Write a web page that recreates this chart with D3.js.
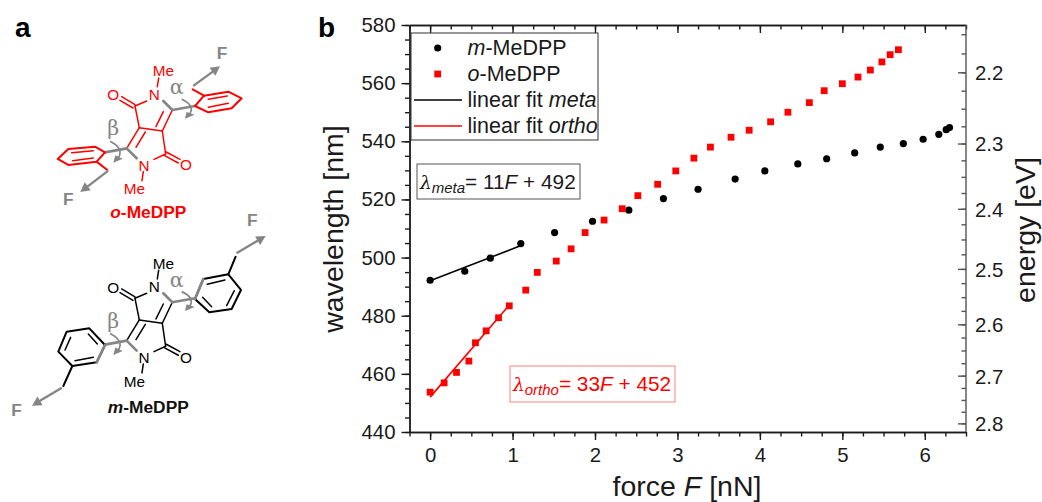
<!DOCTYPE html>
<html>
<head>
<meta charset="utf-8">
<script src="https://cdn.jsdelivr.net/npm/d3@7"></script>
<style>
  html, body { margin: 0; background: #fff; }
  svg text { font-family: "Liberation Sans", Arial, sans-serif; }
  .tick text { font-family: "Liberation Sans", Arial, sans-serif; }
</style>
</head>
<body>
<div id="chart"></div>
<script>
// ========== Data ==========
const metaForce = [0, 0.42, 0.73, 1.10, 1.51, 1.97, 2.41, 2.83, 3.25, 3.70, 4.06, 4.46, 4.81, 5.15, 5.46, 5.74, 5.98, 6.17, 6.26, 6.30];
const metaWave = [492.2, 495.3, 499.8, 504.8, 508.6, 512.5, 516.3, 520.3, 523.5, 527, 529.8, 532.2, 534, 536, 538, 539.2, 540.7, 542.4, 544, 544.7];
const orthoForce = [0, 0.17, 0.32, 0.47, 0.55, 0.68, 0.83, 0.96, 1.16, 1.30, 1.53, 1.71, 1.88, 2.11, 2.33, 2.52, 2.76, 2.98, 3.20, 3.40, 3.65, 3.87, 4.13, 4.34, 4.60, 4.78, 5.00, 5.19, 5.34, 5.48, 5.58, 5.68];
const orthoWave = [453.7, 456.9, 460.5, 464.4, 470.7, 474.8, 479.3, 483.4, 488.8, 494.9, 498.8, 503, 508.6, 512.9, 516.8, 521.3, 525.2, 529.8, 534.2, 538, 541.4, 543.8, 546.7, 550, 553.3, 557.4, 559.8, 562.1, 564.5, 567.3, 569.8, 571.5];
const metaFit = { slope: 11, intercept: 492, from: 0, to: 1.08 };
const orthoFit = { slope: 33, intercept: 452, from: 0, to: 0.95 };
const forceTicks = [0, 1, 2, 3, 4, 5, 6];
const waveTicks = [440, 460, 480, 500, 520, 540, 560, 580];
const energyTicks = [2.2, 2.3, 2.4, 2.5, 2.6, 2.7, 2.8];
const HC = 1239.84; // eV nm

const RED = "#ff0000";
const GRAY = "#858585";
const INK = "#1a1a1a";
const TICK_FONT = 20.4;
const TITLE_FONT = 28.5;

const svg = d3.select("#chart").append("svg")
    .attr("width", 1042)
    .attr("height", 502)
    .style("display", "block");

// ========== Panel letters ==========
svg.append("text").attr("x", 15).attr("y", 37).attr("font-size", 28).attr("font-weight", "bold").text("a");
svg.append("text").attr("x", 318).attr("y", 37).attr("font-size", 28).attr("font-weight", "bold").text("b");

// ========== Panel b: scales ==========
const plotLeft = 409.5, plotRight = 966, plotTop = 25, plotBottom = 432;
const x = d3.scaleLinear().domain([-0.25, 6.5]).range([plotLeft, plotRight]);
const y = d3.scaleLinear().domain([440, 580]).range([plotBottom, plotTop]);
const yEnergy = e => y(HC / e); // energy axis is reciprocal to wavelength

function styleAxis(g) {
    g.selectAll("path, line").attr("stroke", INK).attr("stroke-width", 1.4);
    g.selectAll("text").attr("font-size", TICK_FONT).attr("fill", INK);
}

const forceMinor = d3.range(-0.25, 6.51, 0.25);
const waveMinor = d3.range(440, 581, 5);
const energyMinor = d3.range(2.15, 2.81, 0.025);

// Bottom axis
svg.append("g").attr("transform", `translate(0,${plotBottom})`)
    .call(d3.axisBottom(x).tickValues(forceMinor).tickSize(4.5).tickSizeOuter(0).tickFormat(""))
    .call(styleAxis);
svg.append("g").attr("transform", `translate(0,${plotBottom})`)
    .call(d3.axisBottom(x).tickValues(forceTicks).tickSize(8).tickSizeOuter(0).tickPadding(8).tickFormat(d3.format("d")))
    .call(styleAxis);

// Top axis, ticks inward
svg.append("g").attr("transform", `translate(0,${plotTop})`)
    .call(d3.axisBottom(x).tickValues(forceMinor).tickSize(4.5).tickSizeOuter(0).tickFormat(""))
    .call(styleAxis);
svg.append("g").attr("transform", `translate(0,${plotTop})`)
    .call(d3.axisBottom(x).tickValues(forceTicks).tickSize(8).tickSizeOuter(0).tickFormat(""))
    .call(styleAxis);

// Left axis
svg.append("g").attr("transform", `translate(${plotLeft},0)`)
    .call(d3.axisLeft(y).tickValues(waveMinor).tickSize(4.5).tickSizeOuter(0).tickFormat(""))
    .call(styleAxis);
svg.append("g").attr("transform", `translate(${plotLeft},0)`)
    .call(d3.axisLeft(y).tickValues(waveTicks).tickSize(8).tickSizeOuter(0).tickPadding(6).tickFormat(d3.format("d")))
    .call(styleAxis);

// Right axis: ticks inward, labels outside
const rightAxis = svg.append("g").attr("transform", `translate(${plotRight},0)`);
rightAxis.append("line").attr("y1", plotTop).attr("y2", plotBottom).attr("stroke", "#555").attr("stroke-width", 1.4);
rightAxis.selectAll(".minor").data(energyMinor).enter().append("line")
    .attr("class", "minor")
    .attr("x1", -4.5).attr("x2", 0)
    .attr("y1", d => yEnergy(d)).attr("y2", d => yEnergy(d))
    .attr("stroke", "#555").attr("stroke-width", 1.4);
rightAxis.selectAll(".major").data(energyTicks).enter().append("line")
    .attr("class", "major")
    .attr("x1", -8).attr("x2", 0)
    .attr("y1", d => yEnergy(d)).attr("y2", d => yEnergy(d))
    .attr("stroke", "#555").attr("stroke-width", 1.4);
rightAxis.selectAll(".label").data(energyTicks).enter().append("text")
    .attr("class", "label")
    .attr("x", 9)
    .attr("y", d => yEnergy(d))
    .attr("dy", "0.36em")
    .attr("font-size", TICK_FONT)
    .attr("fill", INK)
    .text(d => d.toFixed(1));

// Axis titles
svg.append("text").attr("x", 687).attr("y", 496).attr("text-anchor", "middle").attr("font-size", TITLE_FONT).attr("fill", INK)
    .html('force <tspan font-style="italic">F</tspan> [nN]');
svg.append("text").attr("transform", "translate(343,229) rotate(-90)").attr("text-anchor", "middle").attr("font-size", TITLE_FONT).attr("fill", INK)
    .text("wavelength [nm]");
svg.append("text").attr("transform", "translate(1035,230) rotate(-90)").attr("text-anchor", "middle").attr("font-size", TITLE_FONT).attr("fill", INK)
    .text("energy [eV]");

// ========== Fit lines ==========
function drawFit(fit, color) {
    const ends = [fit.from, fit.to];
    svg.append("path")
        .datum(ends)
        .attr("fill", "none")
        .attr("stroke", color)
        .attr("stroke-width", 1.6)
        .attr("d", d3.line().x(d => x(d)).y(d => y(fit.slope * d + fit.intercept)));
}
drawFit(metaFit, "#000");
drawFit(orthoFit, RED);

// ========== Points ==========
svg.append("g").selectAll("circle")
    .data(d3.zip(metaForce, metaWave))
    .enter().append("circle")
    .attr("cx", d => x(d[0]))
    .attr("cy", d => y(d[1]))
    .attr("r", 3.6)
    .attr("fill", "#000");

const SQ = 6.8;
svg.append("g").selectAll("rect")
    .data(d3.zip(orthoForce, orthoWave))
    .enter().append("rect")
    .attr("x", d => x(d[0]) - SQ / 2)
    .attr("y", d => y(d[1]) - SQ / 2)
    .attr("width", SQ)
    .attr("height", SQ)
    .attr("fill", RED);

// ========== Legend ==========
const legend = svg.append("g");
legend.append("rect").attr("x", 411).attr("y", 33).attr("width", 187).attr("height", 107)
    .attr("fill", "#fff").attr("stroke", "#333").attr("stroke-width", 1);
const rowY = [48, 74, 100, 126];
legend.append("circle").attr("cx", 437.7).attr("cy", rowY[0]).attr("r", 3.6).attr("fill", "#000");
legend.append("rect").attr("x", 437.7 - SQ / 2).attr("y", rowY[1] - SQ / 2).attr("width", SQ).attr("height", SQ).attr("fill", RED);
legend.append("line").attr("x1", 414).attr("x2", 462).attr("y1", rowY[2]).attr("y2", rowY[2]).attr("stroke", "#000").attr("stroke-width", 1.5);
legend.append("line").attr("x1", 414).attr("x2", 462).attr("y1", rowY[3]).attr("y2", rowY[3]).attr("stroke", RED).attr("stroke-width", 1.5);
const legendText = [
    '<tspan font-style="italic">m</tspan>-MeDPP',
    '<tspan font-style="italic">o</tspan>-MeDPP',
    'linear fit <tspan font-style="italic">meta</tspan>',
    'linear fit <tspan font-style="italic">ortho</tspan>'
];
legendText.forEach((t, i) => {
    legend.append("text").attr("x", 467.5).attr("y", rowY[i] + 7).attr("font-size", 21.5).attr("fill", INK).html(t);
});

// ========== Equation boxes ==========
function eqBox(bx, by, bw, bh, sub, eq, color, stroke) {
    svg.append("rect").attr("x", bx).attr("y", by).attr("width", bw).attr("height", bh)
        .attr("fill", "#fff").attr("stroke", stroke).attr("stroke-width", 1);
    svg.append("text").attr("x", bx + 3).attr("y", by + 24.5).attr("font-size", 20.8).attr("fill", color)
        .html(`<tspan font-style="italic" font-family="DejaVu Serif" font-size="18.5">λ</tspan><tspan font-style="italic" font-size="15" dy="4">${sub}</tspan><tspan dy="-4">= ${eq[0]}</tspan><tspan font-style="italic">F</tspan><tspan> + ${eq[1]}</tspan>`);
}
eqBox(417, 164, 163, 35, "meta", ["11", "492"], INK, "#555");
eqBox(510, 366, 165, 36, "ortho", ["33", "452"], RED, "#ff8080");

// ========== Panel a: molecules ==========
// sketch coordinates are at 3x, scaled down by the group transform
function ring(g, pts, color, w) {
    g.append("path").attr("d", d3.line()(pts) + "Z").attr("fill", "none").attr("stroke", color)
        .attr("stroke-width", w).attr("stroke-linejoin", "round");
}
function seg(g, a, b, color, w) {
    g.append("line").attr("x1", a[0]).attr("y1", a[1]).attr("x2", b[0]).attr("y2", b[1])
        .attr("stroke", color).attr("stroke-width", w).attr("stroke-linecap", "round");
}
function label(g, tx, ty, s, color, size, weight) {
    return g.append("text").attr("x", tx).attr("y", ty).attr("text-anchor", "middle").attr("dominant-baseline", "central")
        .attr("font-size", size).attr("font-weight", weight || "normal").attr("fill", color).text(s);
}
function arrow(g, a, b) {
    const ang = Math.atan2(b[1] - a[1], b[0] - a[0]);
    const L = 28, W = 15;
    const base = [b[0] - L * Math.cos(ang), b[1] - L * Math.sin(ang)];
    seg(g, a, base, GRAY, 7);
    g.append("path").attr("fill", GRAY).attr("d", d3.line()([
        b,
        [base[0] - W * Math.sin(ang), base[1] + W * Math.cos(ang)],
        [base[0] + W * Math.sin(ang), base[1] - W * Math.cos(ang)]
    ]) + "Z");
}
function twist(g, d, tip) {
    g.append("path").attr("d", d).attr("fill", "none").attr("stroke", GRAY).attr("stroke-width", 5);
    g.append("path").attr("fill", GRAY).attr("d", d3.line()(tip) + "Z");
}

function drawCore(g, color) {
    const lw = 4.5;
    seg(g, [405, 318], [440, 303], color, lw);
    seg(g, [405, 318], [418, 383], color, lw);
    seg(g, [418, 383], [487, 393], color, lw);
    seg(g, [487, 393], [517, 330], color, lw);
    seg(g, [468, 380], [490, 335], color, lw);
    seg(g, [487, 393], [497, 462], color, lw);
    seg(g, [418, 383], [380, 445], color, lw);
    seg(g, [436, 396], [408, 442], color, lw);
    seg(g, [497, 462], [462, 478], color, lw);
    seg(g, [405, 314], [365, 290], color, lw);
    seg(g, [399, 324], [360, 301], color, lw);
    seg(g, [499, 456], [540, 478], color, lw);
    seg(g, [494, 467], [535, 489], color, lw);
    seg(g, [472, 260], [476, 234], color, lw);
    seg(g, [430, 515], [426, 542], color, lw);
    label(g, 463, 283, "N", color, 46);
    label(g, 432, 497, "N", color, 46);
    label(g, 340, 285, "O", color, 46);
    label(g, 558, 495, "O", color, 46);
    label(g, 490, 213, "Me", color, 46);
    label(g, 403, 567, "Me", color, 46);
    // gray rotor bonds
    seg(g, [490, 303], [517, 330], GRAY, 8);
    seg(g, [517, 330], [585, 318], GRAY, 8);
    seg(g, [410, 475], [380, 445], GRAY, 8);
    seg(g, [380, 445], [315, 457], GRAY, 8);
    label(g, 530, 262, "α", GRAY, 62).style("font-family", "DejaVu Serif");
    label(g, 340, 385, "β", GRAY, 62).style("font-family", "DejaVu Serif");
    twist(g, "M545,298 Q590,318 565,348", [[555, 356], [584, 344], [560, 336]]);
    twist(g, "M330,424 Q378,448 350,480", [[340, 488], [368, 476], [346, 466]]);
}

// o-MeDPP
const oG = svg.append("g").attr("transform", "scale(0.3333)");
drawCore(oG, RED);
const oR = [[585, 318], [612, 287], [685, 275], [725, 295], [695, 325], [625, 337]];
const oL = [[315, 457], [285, 440], [205, 447], [173, 477], [205, 495], [290, 485]];
ring(oG, oR, RED, 6);
ring(oG, oL, RED, 6);
seg(oG, [625, 298], [682, 288], RED, 4.5);
seg(oG, [625, 322], [685, 310], RED, 4.5);
seg(oG, [215, 458], [280, 452], RED, 4.5);
seg(oG, [218, 482], [280, 474], RED, 4.5);
seg(oG, [612, 287], [578, 268], RED, 6);
seg(oG, [290, 485], [322, 510], RED, 6);
arrow(oG, [582, 256], [660, 199]);
arrow(oG, [322, 514], [241, 576]);
label(oG, 666, 160, "F", GRAY, 52, "bold");
label(oG, 205, 598, "F", GRAY, 52, "bold");
oG.append("text").attr("x", 445).attr("y", 653).attr("text-anchor", "middle").attr("font-size", 52).attr("font-weight", "bold").attr("fill", RED)
    .html('<tspan font-style="italic">o</tspan>-MeDPP');

// m-MeDPP
const mCore = svg.append("g").attr("transform", "translate(0,192.3) scale(0.3333)");
drawCore(mCore, "#000");
const mG = svg.append("g").attr("transform", "translate(0,240) scale(0.3333)");
const mR = [[585, 177], [610, 117], [685, 103], [723, 150], [695, 207], [628, 217]];
const mL = [[315, 315], [268, 265], [200, 275], [175, 335], [217, 378], [290, 367]];
ring(mG, mR, "#000", 6);
ring(mG, mL, "#000", 6);
seg(mG, [585, 177], [610, 117], GRAY, 8);
seg(mG, [315, 315], [290, 367], GRAY, 8);
seg(mG, [622, 133], [675, 120], "#000", 4.5);
seg(mG, [703, 152], [680, 197], "#000", 4.5);
seg(mG, [635, 200], [608, 172], "#000", 4.5);
seg(mG, [195, 330], [212, 292], "#000", 4.5);
seg(mG, [225, 362], [280, 352], "#000", 4.5);
seg(mG, [265, 282], [292, 312], "#000", 4.5);
seg(mG, [685, 103], [707, 50], "#000", 6);
seg(mG, [217, 378], [190, 438], "#000", 6);
arrow(mG, [712, 38], [797, -12]);
arrow(mG, [183, 445], [96, 497]);
label(mG, 757, -60, "F", GRAY, 52, "bold");
label(mG, 50, 510, "F", GRAY, 52, "bold");
mG.append("text").attr("x", 445).attr("y", 518).attr("text-anchor", "middle").attr("font-size", 52).attr("font-weight", "bold").attr("fill", "#111")
    .html('<tspan font-style="italic">m</tspan>-MeDPP');
</script>
</body>
</html>
